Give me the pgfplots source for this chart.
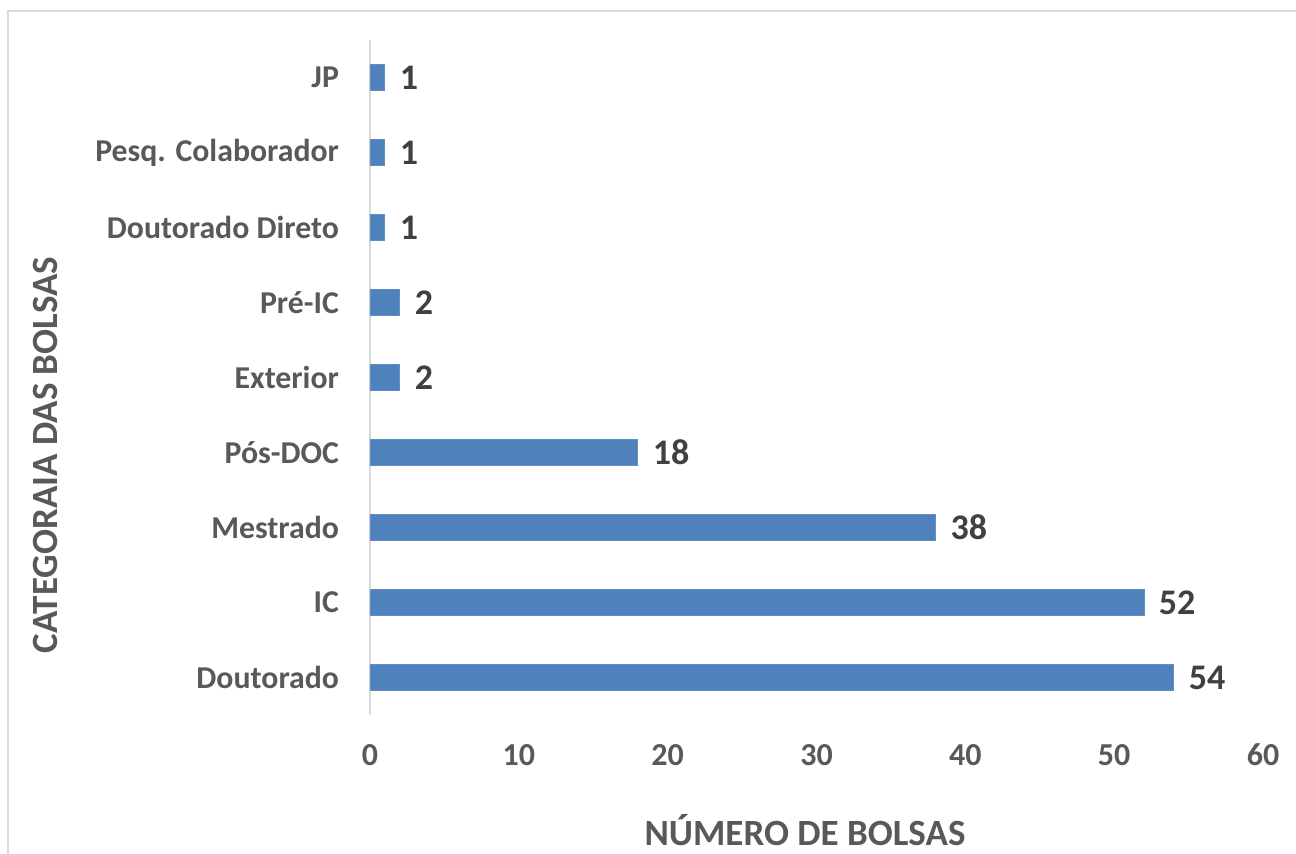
\documentclass[border=0pt]{standalone}
\usepackage{pgfplots}
\pgfplotsset{compat=1.18}
\usepackage{fontspec}
\setmainfont{Carlito}
\definecolor{barblue}{HTML}{4F81BD}
\definecolor{lblgray}{HTML}{595959}
\definecolor{valgray}{HTML}{404040}
\definecolor{framegray}{HTML}{D9D9D9}
\begin{document}
\begin{tikzpicture}[x=1pt,y=1pt]
\path[use as bounding box] (0,0) rectangle (648,427);
\draw[framegray, line width=1pt] (4,0) -- (4,421.5) -- (648,421.5);
\begin{axis}[
  at={(185pt,69.5pt)}, anchor=south west,
  scale only axis, width=446.5pt, height=337.5pt,
  xbar, bar width=13pt,
  xmin=0, xmax=60, ymin=-0.5, ymax=8.5,
  xtick={0,10,...,60},
  ytick={0,...,8},
  yticklabels={Doutorado, IC, Mestrado, Pós-DOC, Exterior, Pré-IC, Doutorado Direto, Pesq. Colaborador, JP},
  axis x line*=bottom,
  axis y line*=left,
  x axis line style={draw=none},
  y axis line style={framegray, line width=1pt, -},
  major tick length=0pt,
  tick style={draw=none},
  xticklabel style={font=\fontsize{16}{19}\selectfont\bfseries, text=lblgray, yshift=-11pt},
  yticklabel style={font=\fontsize{15.9}{19}\selectfont\bfseries, text=lblgray, xshift=-12pt},
  /pgf/number format/assume math mode=true,
  nodes near coords,
  nodes near coords style={font=\fontsize{18}{21}\selectfont\bfseries, text=valgray, anchor=west, xshift=4pt},
  clip=false,
]
\addplot[fill=barblue, draw=barblue!90!white] coordinates {(54,0) (52,1) (38,2) (18,3) (2,4) (2,5) (1,6) (1,7) (1,8)};
\end{axis}
\node[font=\fontsize{18.5}{22}\selectfont\bfseries, text=lblgray] at (402.5,12) {NÚMERO DE BOLSAS};
\node[font=\fontsize{18.5}{22}\selectfont\bfseries, text=lblgray, rotate=90] at (22.5,199.5) {CATEGORAIA DAS BOLSAS};
\end{tikzpicture}
\end{document}
